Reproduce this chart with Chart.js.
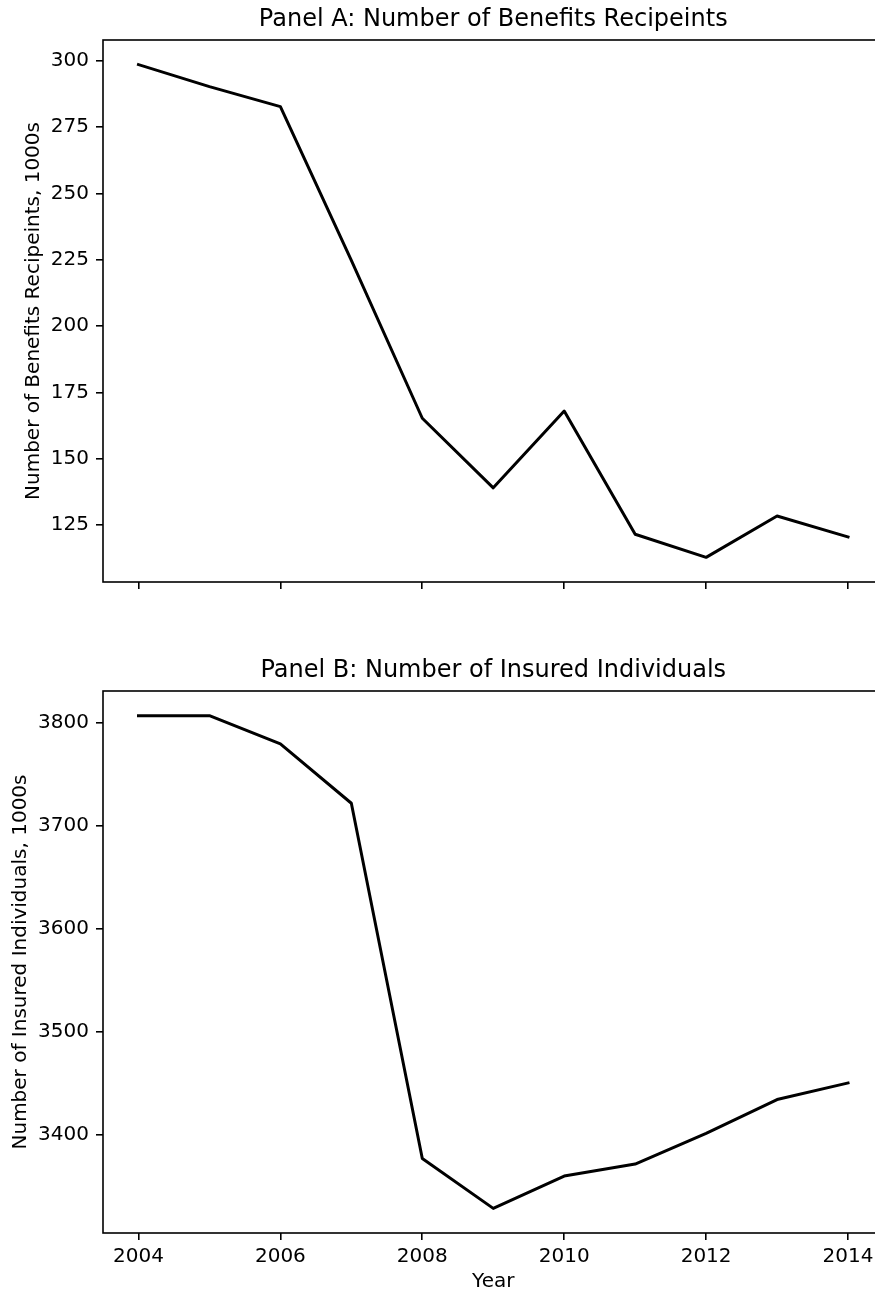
<!DOCTYPE html>
<html>
<head>
<meta charset="utf-8">
<script src="https://cdn.jsdelivr.net/npm/chart.js@4/dist/chart.umd.min.js"></script>
<style>
  html, body { margin: 0; padding: 0; background: #ffffff; }
  body { width: 875px; height: 1292px; position: relative; overflow: hidden; }
  .panel { position: absolute; left: 0; }
  canvas { display: block; }
</style>
</head>
<body>
<div class="panel" style="top:0px;"><canvas id="chartA" width="885" height="620"></canvas></div>
<div class="panel" style="top:620px;"><canvas id="chartB" width="885" height="672"></canvas></div>
<script>
// ---- data ----
const years = [2004, 2005, 2006, 2007, 2008, 2009, 2010, 2011, 2012, 2013, 2014];
const benefitsRecipients = [298.5, 290.2, 282.7, 224.8, 165.3, 139.1, 168.0, 121.6, 112.9, 128.5, 120.6];
const insuredIndividuals = [3806.8, 3806.8, 3779.3, 3721.7, 3376.7, 3328.2, 3359.6, 3371.2, 3401.0, 3433.9, 3450.0];
const xTicks = [2004, 2006, 2008, 2010, 2012, 2014];
const yTicksA = [125, 150, 175, 200, 225, 250, 275, 300];
const yTicksB = [3400, 3500, 3600, 3700, 3800];
const titleA = 'Panel A: Number of Benefits Recipeints';
const titleB = 'Panel B: Number of Insured Individuals';
const yLabelA = 'Number of Benefits Recipeints, 1000s';
const yLabelB = 'Number of Insured Individuals, 1000s';
const xLabel = 'Year';

// ---- styling ----
Chart.defaults.font.family = "'DejaVu Sans', sans-serif";
Chart.defaults.color = '#000000';

function padRange(arr, frac) {
  const mn = Math.min(...arr), mx = Math.max(...arr);
  const p = (mx - mn) * frac;
  return [mn - p, mx + p];
}

const spinePlugin = {
  id: 'spines',
  afterDraw(chart) {
    const {ctx, chartArea: a} = chart;
    ctx.save();
    ctx.strokeStyle = '#000000';
    ctx.lineWidth = 1.6;
    ctx.strokeRect(a.left, a.top, a.right - a.left, a.bottom - a.top);
    ctx.restore();
  }
};

function makeChart(id, values, yTicks, title, titlePad, yLabel, yTitlePadTop, xAxisHeight, showXLabels) {
  const [ymin, ymax] = padRange(values, 0.05);
  const [xmin, xmax] = padRange(years, 0.05);
  const gridOpts = {
    display: true,
    drawOnChartArea: false,
    drawTicks: true,
    tickLength: 7,
    color: '#000000',
    lineWidth: 1.6
  };
  return new Chart(document.getElementById(id), {
    type: 'line',
    data: {
      datasets: [{
        data: years.map((y, i) => ({x: y, y: values[i]})),
        borderColor: '#000000',
        borderWidth: 3,
        pointRadius: 0,
        pointHoverRadius: 0,
        tension: 0,
        fill: false,
        borderJoinStyle: 'round',
        borderCapStyle: 'square'
      }]
    },
    options: {
      responsive: false,
      animation: false,
      devicePixelRatio: 1,
      events: [],
      layout: { padding: { left: 0, right: 1.5, top: 0, bottom: 0 } },
      plugins: {
        legend: { display: false },
        tooltip: { enabled: false },
        title: {
          display: true,
          fullSize: false,
          text: title,
          color: '#000000',
          font: { size: 24, weight: 'normal', lineHeight: 1 },
          padding: titlePad
        }
      },
      scales: {
        x: {
          type: 'linear',
          position: 'bottom',
          min: xmin,
          max: xmax,
          afterBuildTicks: (s) => { s.ticks = xTicks.map(v => ({value: v})); },
          afterFit: (s) => { s.height = xAxisHeight; },
          grid: gridOpts,
          border: { display: false },
          ticks: {
            display: showXLabels,
            color: '#000000',
            font: { size: 20 },
            padding: 5,
            maxRotation: 0,
            autoSkip: false,
            callback: (v) => String(v)
          },
          title: {
            display: showXLabels,
            text: xLabel,
            color: '#000000',
            font: { size: 20, lineHeight: 1 },
            padding: { top: 0, bottom: 0 }
          }
        },
        y: {
          type: 'linear',
          position: 'left',
          min: ymin,
          max: ymax,
          afterBuildTicks: (s) => { s.ticks = yTicks.map(v => ({value: v})); },
          afterFit: (s) => { s.width = 103; },
          grid: gridOpts,
          border: { display: false },
          ticks: {
            color: '#000000',
            font: { size: 20 },
            padding: 7,
            autoSkip: false,
            callback: (v) => String(v)
          },
          title: {
            display: true,
            text: yLabel,
            color: '#000000',
            font: { size: 20, lineHeight: 1 },
            padding: { top: yTitlePadTop, bottom: 0 }
          }
        }
      }
    },
    plugins: [spinePlugin]
  });
}

makeChart('chartA', benefitsRecipients, yTicksA, titleA, {top: 8, bottom: 8}, yLabelA, 24, 38, false);
makeChart('chartB', insuredIndividuals, yTicksB, titleB, {top: 38.6, bottom: 8.4}, yLabelB, 11, 59, true);
</script>
</body>
</html>
